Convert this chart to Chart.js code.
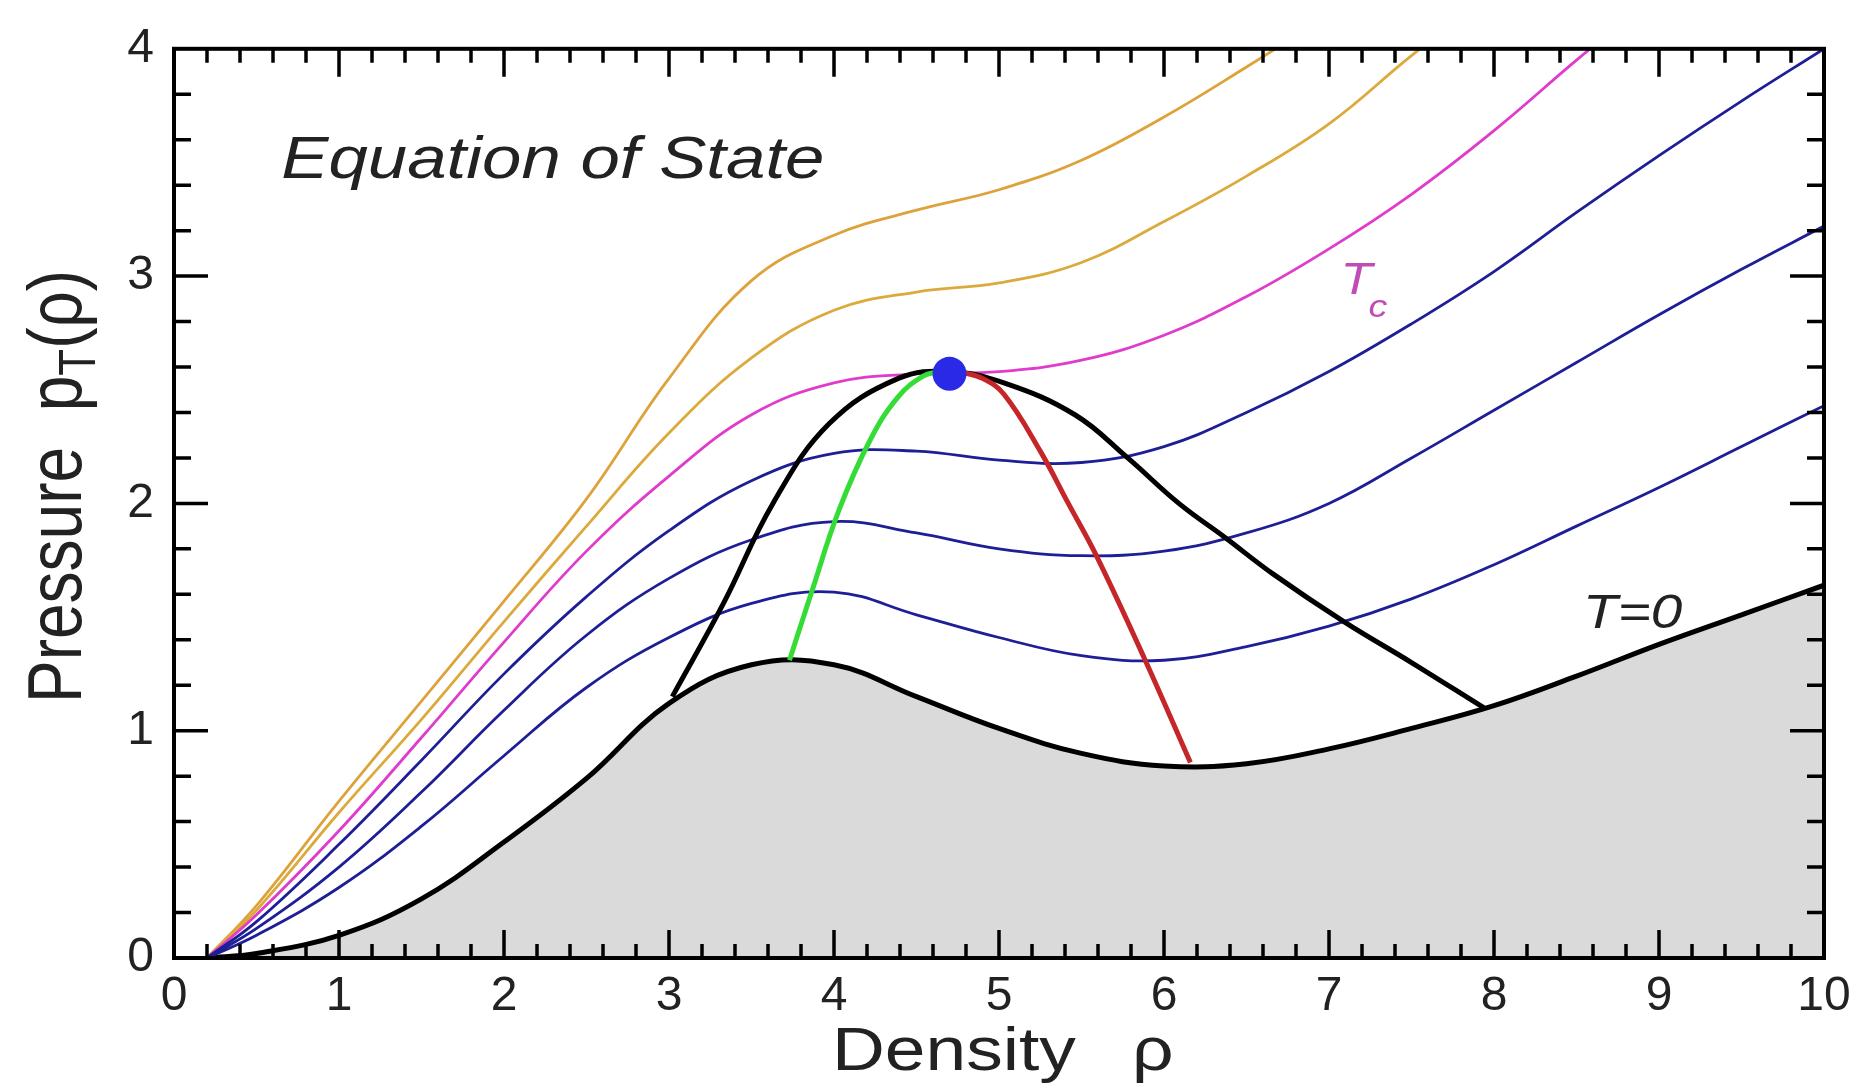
<!DOCTYPE html>
<html>
<head>
<meta charset="utf-8">
<title>Equation of State</title>
<script src="https://cdn.jsdelivr.net/npm/chart.js@4.4.1/dist/chart.umd.min.js"></script>
<style>
    html, body { margin: 0; padding: 0; background: #fff; }
    canvas { display: block; }
</style>
</head>
<body>
<canvas id="eos" width="1861" height="1091"></canvas>
<script>
/* Density grid shared by the isotherms and the T = 0 curve */
let rhoGrid = [0.2, 0.5, 1, 1.5, 2, 2.5, 3, 3.5, 4, 4.5, 5, 5.5, 6, 6.5, 7, 7.5, 8, 8.5, 9, 9.5, 10];

/* Pressure values */
let pT0 = [0, 0.02, 0.10, 0.26, 0.51, 0.79, 1.12, 1.29, 1.29, 1.15, 1.01, 0.90, 0.845, 0.855, 0.92, 1.01, 1.11, 1.24, 1.38, 1.51, 1.64];
let pBlue1 = [0, 0.10, 0.31, 0.58, 0.89, 1.19, 1.41, 1.56, 1.61, 1.51, 1.41, 1.33, 1.31, 1.37, 1.46, 1.58, 1.73, 1.90, 2.07, 2.25, 2.43];
let pBlue2 = [0, 0.13, 0.40, 0.73, 1.09, 1.42, 1.67, 1.84, 1.92, 1.87, 1.80, 1.77, 1.79, 1.87, 2.00, 2.20, 2.41, 2.62, 2.83, 3.03, 3.22];
let pBlue3 = [0, 0.16, 0.50, 0.87, 1.25, 1.59, 1.88, 2.10, 2.22, 2.23, 2.19, 2.18, 2.25, 2.40, 2.58, 2.79, 3.02, 3.28, 3.53, 3.77, 4.00];
let pTc = [0, 0.19, 0.56, 0.97, 1.39, 1.79, 2.12, 2.39, 2.53, 2.57, 2.58, 2.63, 2.74, 2.91, 3.12, 3.36, 3.64, 3.95, 4.25];
let pHot1 = [0, 0.21, 0.64, 1.05, 1.48, 1.90, 2.31, 2.64, 2.85, 2.93, 2.97, 3.06, 3.24, 3.44, 3.67, 3.97, 4.25];
let pHot2 = [0, 0.23, 0.69, 1.13, 1.57, 2.02, 2.55, 2.98, 3.18, 3.29, 3.38, 3.51, 3.70, 3.92, 4.15];

/* Coexistence curve and the two spinodal branches */
let rhoBinodal = [3.02, 3.33, 3.63, 3.97, 4.39, 4.70, 5.03, 5.46, 5.78, 6.09, 6.37, 6.66, 7.09, 7.5, 7.94];
let pBinodal = [1.15, 1.56, 2.0, 2.35, 2.55, 2.58, 2.53, 2.39, 2.20, 2.0, 1.85, 1.69, 1.48, 1.30, 1.10];

let rhoSpinL = [3.73, 3.86, 4.03, 4.22, 4.39, 4.54, 4.64];
let pSpinL = [1.31, 1.60, 1.97, 2.28, 2.47, 2.56, 2.58];

let rhoSpinR = [4.76, 4.9, 5.03, 5.25, 5.42, 5.59, 5.88, 6.16];
let pSpinR = [2.58, 2.55, 2.48, 2.23, 2.0, 1.77, 1.32, 0.86];

/* critical point */
let rhoCrit = [4.70];
let pCrit = [2.57];

let xTicks = [0, 1, 2, 3, 4, 5, 6, 7, 8, 9, 10];
let yTicks = [0, 1, 2, 3, 4];

const FONT = '"Liberation Sans", Arial, Helvetica, sans-serif';
const STRETCH = 1.18;

/* turn two arrays into chart points (curves leaving the top stop early) */
function pts(xs, ys) {
    return ys.map((y, i) => ({ x: xs[i], y: y }));
}

function curve(xs, ys, color, width, order) {
    return {
        data: pts(xs, ys),
        borderColor: color,
        borderWidth: width,
        pointRadius: 0,
        fill: false,
        tension: 0.4,
        order: order
    };
}

/* text drawn slightly wider than the font, like the original figure */
function wideText(ctx, text, x, y, font, color) {
    ctx.save();
    ctx.translate(x, y);
    ctx.scale(STRETCH, 1);
    ctx.font = font;
    ctx.fillStyle = color;
    ctx.textBaseline = 'alphabetic';
    ctx.textAlign = 'left';
    ctx.fillText(text, 0, 0);
    ctx.restore();
}

/* frame with inward ticks, titles and labels */
const decorations = {
    id: 'decorations',
    afterDatasetsDraw(chart) {
        let ctx = chart.ctx;
        let a = chart.chartArea;
        let xs = chart.scales.x;
        let ys = chart.scales.y;
        ctx.save();
        ctx.strokeStyle = '#000';
        ctx.lineWidth = 3.5;
        ctx.beginPath();
        for (let i = 1; i < 50; i++) {
            let px = xs.getPixelForValue(i / 5);
            let len = i % 5 === 0 ? 28 : 14;
            ctx.moveTo(px, a.bottom);
            ctx.lineTo(px, a.bottom - len);
            ctx.moveTo(px, a.top);
            ctx.lineTo(px, a.top + len);
        }
        for (let i = 1; i < 20; i++) {
            let py = ys.getPixelForValue(i / 5);
            let len = i % 5 === 0 ? 34 : 17;
            ctx.moveTo(a.left, py);
            ctx.lineTo(a.left + len, py);
            ctx.moveTo(a.right, py);
            ctx.lineTo(a.right - len, py);
        }
        ctx.stroke();
        ctx.lineWidth = 4;
        ctx.strokeRect(a.left, a.top, a.right - a.left, a.bottom - a.top);
        ctx.restore();
    },
    afterDraw(chart) {
        let ctx = chart.ctx;
        let a = chart.chartArea;
        let xs = chart.scales.x;
        let ys = chart.scales.y;

        /* labels inside the plot */
        wideText(ctx, 'Equation of State', xs.getPixelForValue(0.65), ys.getPixelForValue(3.43),
            'italic 60px ' + FONT, '#222');
        wideText(ctx, 'T=0', xs.getPixelForValue(8.54), ys.getPixelForValue(1.45),
            'italic 48px ' + FONT, '#222');
        wideText(ctx, 'T', xs.getPixelForValue(7.07), ys.getPixelForValue(2.92),
            'italic 44px ' + FONT, '#c04cb8');
        wideText(ctx, 'c', xs.getPixelForValue(7.24), ys.getPixelForValue(2.82),
            'italic 32px ' + FONT, '#c04cb8');

        /* x axis title */
        wideText(ctx, 'Density', a.left + 658, 1070, '62px ' + FONT, '#222');
        wideText(ctx, 'ρ', a.left + 958, 1070, '62px ' + FONT, '#222');

        /* y axis title with subscript, rotated */
        ctx.save();
        ctx.translate(a.left - 93, a.bottom - 255);
        ctx.scale(STRETCH, 1);
        ctx.rotate(-Math.PI / 2);
        ctx.fillStyle = '#222';
        ctx.textBaseline = 'alphabetic';
        ctx.font = '64px ' + FONT;
        let t1 = 'Pressure  p';
        ctx.fillText(t1, 0, 0);
        let w = ctx.measureText(t1).width;
        ctx.font = '44px ' + FONT;
        ctx.fillText('T', w, 12);
        w += ctx.measureText('T').width;
        ctx.font = '64px ' + FONT;
        ctx.fillText('(ρ)', w, 0);
        ctx.restore();
    }
};

let datasets = [
    /* T = 0 curve with the grey region below it */
    {
        data: pts(rhoGrid, pT0),
        borderColor: '#000',
        borderWidth: 5,
        backgroundColor: '#dadada',
        pointRadius: 0,
        fill: 'origin',
        tension: 0.4,
        order: 10
    },
    curve(rhoGrid, pBlue1, '#1e1e96', 2.8, 6),
    curve(rhoGrid, pBlue2, '#1e1e96', 2.8, 6),
    curve(rhoGrid, pBlue3, '#1e1e96', 2.8, 6),
    curve(rhoGrid, pTc, '#e03ccb', 2.8, 6),
    curve(rhoGrid, pHot1, '#dcaa3c', 2.8, 6),
    curve(rhoGrid, pHot2, '#dea23a', 2.8, 6),
    curve(rhoBinodal, pBinodal, '#000', 5, 4),
    curve(rhoSpinL, pSpinL, '#36dc36', 5, 3),
    curve(rhoSpinR, pSpinR, '#c4262a', 5, 3),
    {
        data: pts(rhoCrit, pCrit),
        showLine: false,
        pointRadius: 17,
        pointBackgroundColor: '#2a2ae6',
        pointBorderColor: '#2a2ae6',
        pointBorderWidth: 0,
        order: 1
    }
];

let myChart = new Chart(document.getElementById('eos'), {
    type: 'line',
    data: { datasets: datasets },
    options: {
        responsive: false,
        devicePixelRatio: 1,
        animation: false,
        events: [],
        layout: { padding: { top: 33, right: 37, left: 0, bottom: 0 } },
        plugins: { legend: { display: false }, tooltip: { enabled: false } },
        scales: {
            x: {
                type: 'linear',
                min: 0,
                max: 10,
                afterBuildTicks: (s) => { s.ticks = xTicks.map(v => ({ value: v })); },
                afterFit: (s) => { s.height = 133; },
                grid: { display: false, drawTicks: false },
                border: { display: false },
                ticks: { padding: 10, color: '#222', font: { family: FONT, size: 48 } }
            },
            y: {
                type: 'linear',
                min: 0,
                max: 4,
                afterBuildTicks: (s) => { s.ticks = yTicks.map(v => ({ value: v })); },
                afterFit: (s) => { s.width = 174; },
                grid: { display: false, drawTicks: false },
                border: { display: false },
                ticks: { padding: 20, color: '#222', font: { family: FONT, size: 48 } }
            }
        }
    },
    plugins: [decorations]
});
</script>
</body>
</html>
